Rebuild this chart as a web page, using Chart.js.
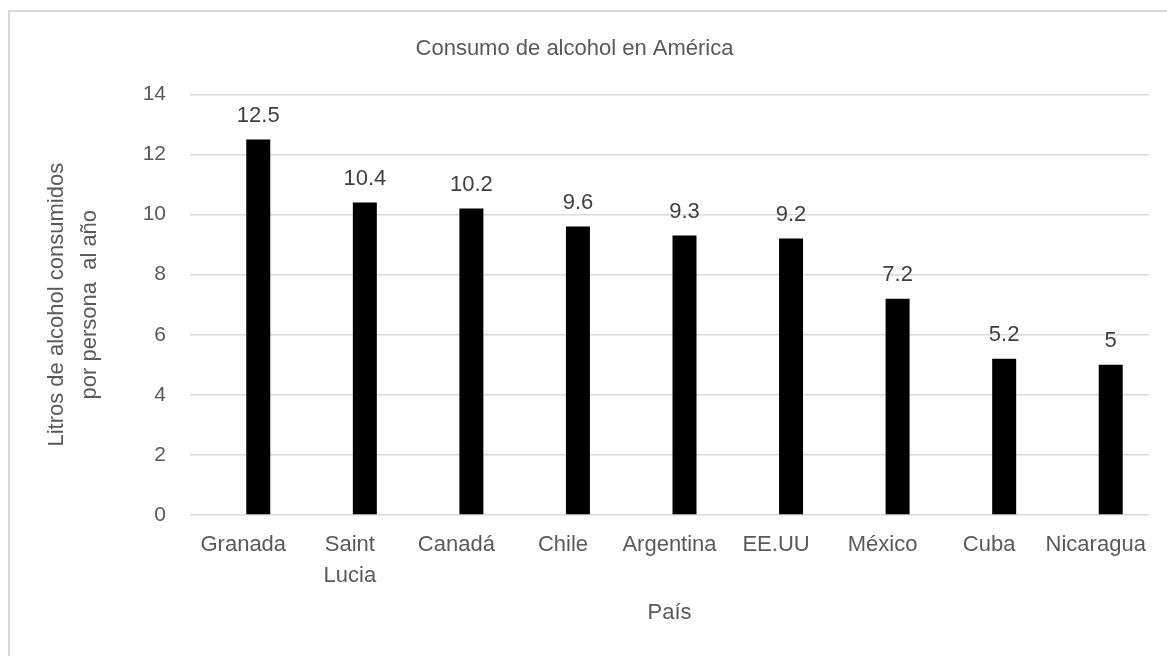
<!DOCTYPE html>
<html>
<head>
<meta charset="utf-8">
<title>Consumo de alcohol en América</title>
<script src="https://cdn.jsdelivr.net/npm/chart.js@4.4.1/dist/chart.umd.min.js"></script>
<style>
    html, body { margin: 0; padding: 0; background: #fff; overflow: hidden; }
    #frame {
        position: absolute; left: 8px; top: 10px;
        width: 1300px; height: 800px;
        border-left: 2px solid #d9d9d9; border-top: 2px solid #d9d9d9;
    }
    #chart { position: absolute; left: 0; top: 0; }
</style>
</head>
<body>
<div id="frame"></div>
<canvas id="chart" width="1167" height="656"></canvas>
<script>
const paises = ['Granada', ['Saint', 'Lucia'], 'Canadá', 'Chile', 'Argentina', 'EE.UU', 'México', 'Cuba', 'Nicaragua'];
const litros = [12.5, 10.4, 10.2, 9.6, 9.3, 9.2, 7.2, 5.2, 5];
const yTicks = [0, 2, 4, 6, 8, 10, 12, 14];

const FONT = "'Liberation Sans Narrow', 'Arial Narrow', 'Liberation Sans', Arial, sans-serif";
const GRAY = '#595959';

// value labels above each bar
const valueLabels = {
    id: 'valueLabels',
    afterDatasetsDraw(chart) {
        const ctx = chart.ctx;
        const meta = chart.getDatasetMeta(1);
        ctx.save();
        ctx.font = '22px ' + FONT;
        ctx.fillStyle = '#404040';
        ctx.textAlign = 'center';
        ctx.textBaseline = 'bottom';
        meta.data.forEach(function(bar, i) {
            ctx.fillText(String(litros[i]), bar.x, bar.y - 13);
        });
        ctx.restore();
    }
};

const ctx = document.getElementById('chart').getContext('2d');
const chart = new Chart(ctx, {
    type: 'bar',
    data: {
        labels: paises,
        datasets: [{
            // empty first series, the bars sit in the second slot
            label: '',
            data: [],
            backgroundColor: '#000'
        }, {
            label: 'Litros',
            data: litros,
            backgroundColor: '#000'
        }]
    },
    options: {
        responsive: false,
        animation: false,
        layout: { padding: { left: 0, right: 18, top: 0, bottom: 0 } },
        datasets: { bar: { categoryPercentage: 0.563, barPercentage: 0.8 } },
        plugins: {
            legend: { display: false },
            tooltip: { enabled: false },
            title: {
                display: true,
                text: 'Consumo de alcohol en América',
                color: GRAY,
                font: { family: FONT, size: 22, weight: 'normal', lineHeight: 1.2 },
                padding: { top: 36, bottom: 32 }
            }
        },
        scales: {
            x: {
                grid: { display: false, drawTicks: false },
                border: { display: false },
                ticks: {
                    color: GRAY,
                    font: { family: FONT, size: 22, lineHeight: 1.4 },
                    padding: 15,
                    maxRotation: 0,
                    autoSkip: false
                },
                title: {
                    display: true,
                    text: 'País',
                    color: GRAY,
                    font: { family: FONT, size: 22, lineHeight: 1.2 },
                    padding: { top: 0, bottom: 30 }
                },
                afterFit(scale) { scale.height = 141; }
            },
            y: {
                min: 0,
                max: 14,
                afterBuildTicks(scale) {
                    scale.ticks = yTicks.map(v => ({ value: v }));
                },
                grid: { color: '#d9d9d9', lineWidth: 1.5, drawTicks: false },
                border: { display: false },
                ticks: {
                    color: GRAY,
                    font: { family: FONT, size: 21 },
                    padding: 24
                },
                title: {
                    display: true,
                    text: ['Litros de alcohol consumidos', 'por persona  al año'],
                    color: GRAY,
                    font: { family: FONT, size: 22, lineHeight: 1.5 },
                    padding: { top: 40, bottom: 0 }
                },
                afterFit(scale) { scale.width = 190; }
            }
        }
    },
    plugins: [valueLabels]
});
</script>
</body>
</html>
